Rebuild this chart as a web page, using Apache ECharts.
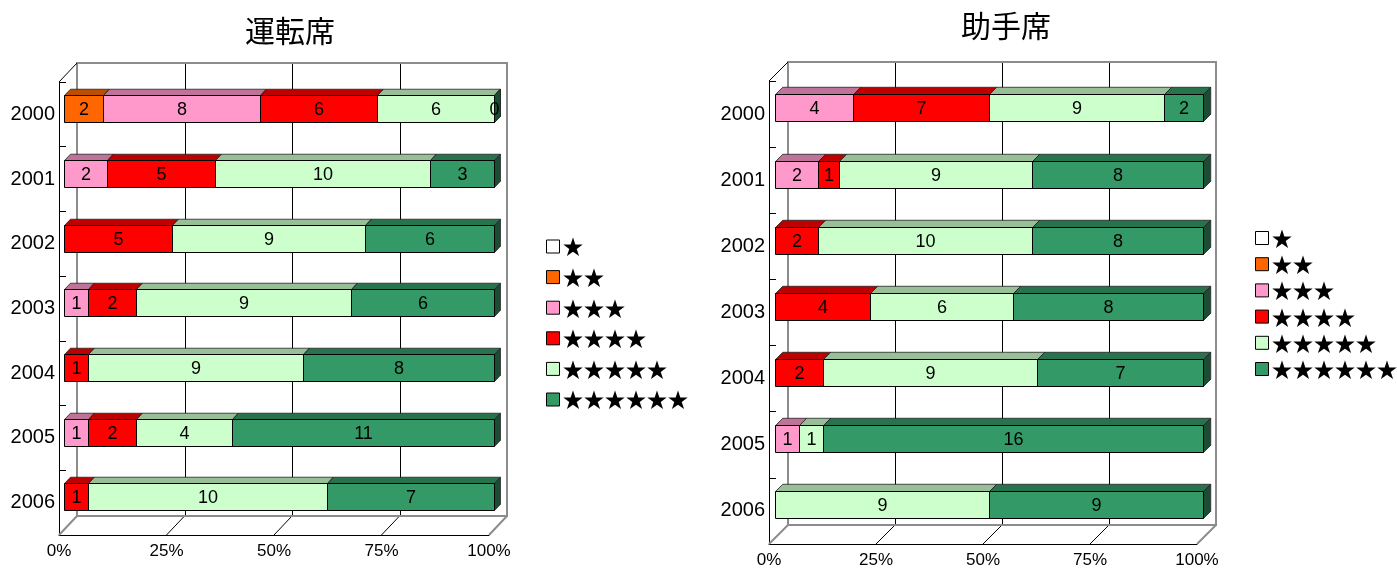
<!DOCTYPE html>
<html>
<head>
<meta charset="utf-8">
<script src="https://cdn.jsdelivr.net/npm/echarts@6/dist/echarts.min.js"></script>
<style>
  html, body { margin: 0; padding: 0; background: #fff; }
  #chart { width: 1397px; height: 569px; }
</style>
</head>
<body>
<div id="chart"></div>
<script>
// years and star classes
var years = ['2000', '2001', '2002', '2003', '2004', '2005', '2006'];
var stars = ['★', '★★', '★★★', '★★★★', '★★★★★', '★★★★★★'];
var starColors = ['#FFFFFF', '#FF6600', '#FF99CC', '#FF0000', '#CCFFCC', '#339966'];
var pctTicks = [0, 25, 50, 75, 100];

// 運転席 (driver) counts per star class, by year
var drv1 = [null, null, null, null, null, null, null];
var drv2 = [2, null, null, null, null, null, null];
var drv3 = [8, 2, null, 1, null, 1, null];
var drv4 = [6, 5, 5, 2, 1, 2, 1];
var drv5 = [6, 10, 9, 9, 9, 4, 10];
var drv6 = [0, 3, 6, 6, 8, 11, 7];

// 助手席 (passenger)
var pas1 = [null, null, null, null, null, null, null];
var pas2 = [null, null, null, null, null, null, null];
var pas3 = [4, 2, null, null, null, 1, null];
var pas4 = [7, 1, 2, 4, 2, null, null];
var pas5 = [9, 9, 10, 6, 9, 1, 9];
var pas6 = [2, 8, 8, 8, 7, 16, 9];

var FONT = '"Noto Sans CJK JP", "Noto Sans", sans-serif';
var NUMFONT = '"Liberation Sans", Arial, sans-serif';

function shade(hex, k) {
  var n = parseInt(hex.slice(1), 16);
  var r = Math.round(((n >> 16) & 255) * k);
  var g = Math.round(((n >> 8) & 255) * k);
  var b = Math.round((n & 255) * k);
  return 'rgb(' + r + ',' + g + ',' + b + ')';
}

// turn count lists into 100% stacked segments [year, start%, end%, count]
function segments(lists) {
  var out = lists.map(function () { return []; });
  years.forEach(function (y, i) {
    var total = 0;
    lists.forEach(function (l) { if (l[i] != null) total += l[i]; });
    var cum = 0;
    lists.forEach(function (l, s) {
      var v = l[i];
      if (v == null) return;
      out[s].push([y, cum / total * 100, (cum + v) / total * 100, v]);
      cum += v;
    });
  });
  return out;
}

function barRender(depth, f0, f1, hFrac, color) {
  return function (params, api) {
    var cat = api.value(0);
    var p0 = api.coord([api.value(1), cat]);
    var p1 = api.coord([api.value(2), cat]);
    var band = api.size([0, 1])[1];
    var h = Math.round(band * hFrac);
    var fx = depth[0] * f0, fy = depth[1] * f0;
    var dx = depth[0] * (f1 - f0), dy = depth[1] * (f1 - f0);
    var x0 = Math.round(p0[0] + fx) + 0.5, x1 = Math.round(p1[0] + fx) + 0.5;
    var yT = Math.round(p0[1] + fy - h / 2) + 0.5, yB = yT + h;
    return {
      type: 'group',
      children: [
        { type: 'polygon', shape: { points: [[x0, yT], [x1, yT], [x1 + dx, yT + dy], [x0 + dx, yT + dy]] },
          style: { fill: shade(color, 0.75), stroke: '#222', lineWidth: 0.8 } },
        { type: 'polygon', shape: { points: [[x1, yT], [x1 + dx, yT + dy], [x1 + dx, yB + dy], [x1, yB]] },
          style: { fill: shade(color, 0.5), stroke: '#222', lineWidth: 0.8 } },
        { type: 'rect', shape: { x: x0, y: yT, width: x1 - x0, height: h },
          style: { fill: color, stroke: '#000', lineWidth: 1 } },
        { type: 'text', style: { text: String(api.value(3)), x: (x0 + x1) / 2, y: (yT + yB) / 2 + 1,
          align: 'center', verticalAlign: 'middle', fontSize: 18, fontFamily: NUMFONT, fill: '#000' } }
      ]
    };
  };
}

function frameRender(depth) {
  return function (params, api) {
    var cs = params.coordSys;
    var x = cs.x, y = cs.y, w = cs.width, h = cs.height;
    var d0 = depth[0], d1 = depth[1];
    var kids = [];
    function line(ax, ay, bx, by, c, lw) {
      kids.push({ type: 'line', shape: { x1: ax, y1: ay, x2: bx, y2: by }, style: { stroke: c, lineWidth: lw } });
    }
    [25, 50, 75].forEach(function (v) {
      var px = api.coord([v, 0])[0];
      var bx = Math.round(px + d0) + 0.5;
      line(bx, y + d1, bx, y + h + d1, '#000', 1);
      line(px, y + h, px + d0, y + h + d1, '#000', 1);
    });
    kids.push({ type: 'rect', shape: { x: x + d0, y: y + d1, width: w, height: h },
      style: { fill: 'none', stroke: '#8c8c8c', lineWidth: 2 } });
    line(x, y + h, x + d0, y + h + d1, '#8c8c8c', 2);
    line(x + w, y + h, x + w + d0, y + h + d1, '#8c8c8c', 2);
    line(x, y, x + d0, y + d1, '#000', 1);
    return { type: 'group', children: kids };
  };
}

var panels = [
  { title: '運転席', lists: [drv1, drv2, drv3, drv4, drv5, drv6],
    grid: { left: 59, top: 82, width: 430, height: 453 }, depth: [18, -19], f0: 0.3, f1: 0.63, hFrac: 0.41,
    titlePos: { left: 285, top: 11 },
    legend: { left: 541, top: 231, itemGap: 9.6 } },
  { title: '助手席', lists: [pas1, pas2, pas3, pas4, pas5, pas6],
    grid: { left: 769, top: 81, width: 428, height: 465 }, depth: [19, -19], f0: 0.32, f1: 0.7, hFrac: 0.41,
    titlePos: { left: 1001, top: 6 },
    legend: { left: 1250, top: 222.5, itemGap: 5.2 } }
];

var option = {
  animation: false,
  backgroundColor: '#fff',
  title: [], grid: [], xAxis: [], yAxis: [], legend: [], series: []
};

panels.forEach(function (p, gi) {
  option.title.push({
    text: p.title, left: p.titlePos.left, top: p.titlePos.top, textAlign: 'center',
    textStyle: { fontFamily: FONT, fontSize: 30, fontWeight: 'normal', color: '#000' }
  });
  option.grid.push(Object.assign({ containLabel: false }, p.grid));
  option.xAxis.push({
    type: 'value', gridIndex: gi, min: 0, max: 100, interval: 25,
    axisLine: { show: true, lineStyle: { color: '#000', width: 1 } },
    axisTick: { show: false }, splitLine: { show: false },
    axisLabel: { formatter: '{value}%', margin: 8, fontSize: 17, fontFamily: NUMFONT, color: '#000' }
  });
  option.yAxis.push({
    type: 'category', gridIndex: gi, data: years, inverse: true,
    axisLine: { show: true, lineStyle: { color: '#000', width: 1 } },
    axisTick: { show: true, inside: true, length: 7, lineStyle: { color: '#000' } },
    axisLabel: { margin: 4, fontSize: 20, fontFamily: NUMFONT, color: '#000' },
    splitLine: { show: false }
  });
  option.legend.push({
    orient: 'vertical', left: p.legend.left, top: p.legend.top, itemGap: p.legend.itemGap,
    icon: 'rect', itemWidth: 13, itemHeight: 13, itemStyle: { borderColor: '#000', borderWidth: 1 },
    textStyle: { fontFamily: FONT, fontSize: 21, lineHeight: 21, color: '#000', padding: [0, 0, 0, -2] },
    data: stars, selectedMode: false
  });
  option.series.push({
    type: 'custom', xAxisIndex: gi, yAxisIndex: gi, z: 1, silent: true,
    data: [[0, years[0]]], encode: { x: 0, y: 1 },
    renderItem: frameRender(p.depth)
  });
  var segs = segments(p.lists);
  stars.forEach(function (name, s) {
    option.series.push({
      type: 'custom', name: name, xAxisIndex: gi, yAxisIndex: gi, z: 3,
      itemStyle: { color: starColors[s] },
      data: segs[s], encode: { x: [1, 2], y: 0 },
      renderItem: barRender(p.depth, p.f0, p.f1, p.hFrac, starColors[s])
    });
  });
});

var chart = echarts.init(document.getElementById('chart'));
chart.setOption(option);
</script>
</body>
</html>
